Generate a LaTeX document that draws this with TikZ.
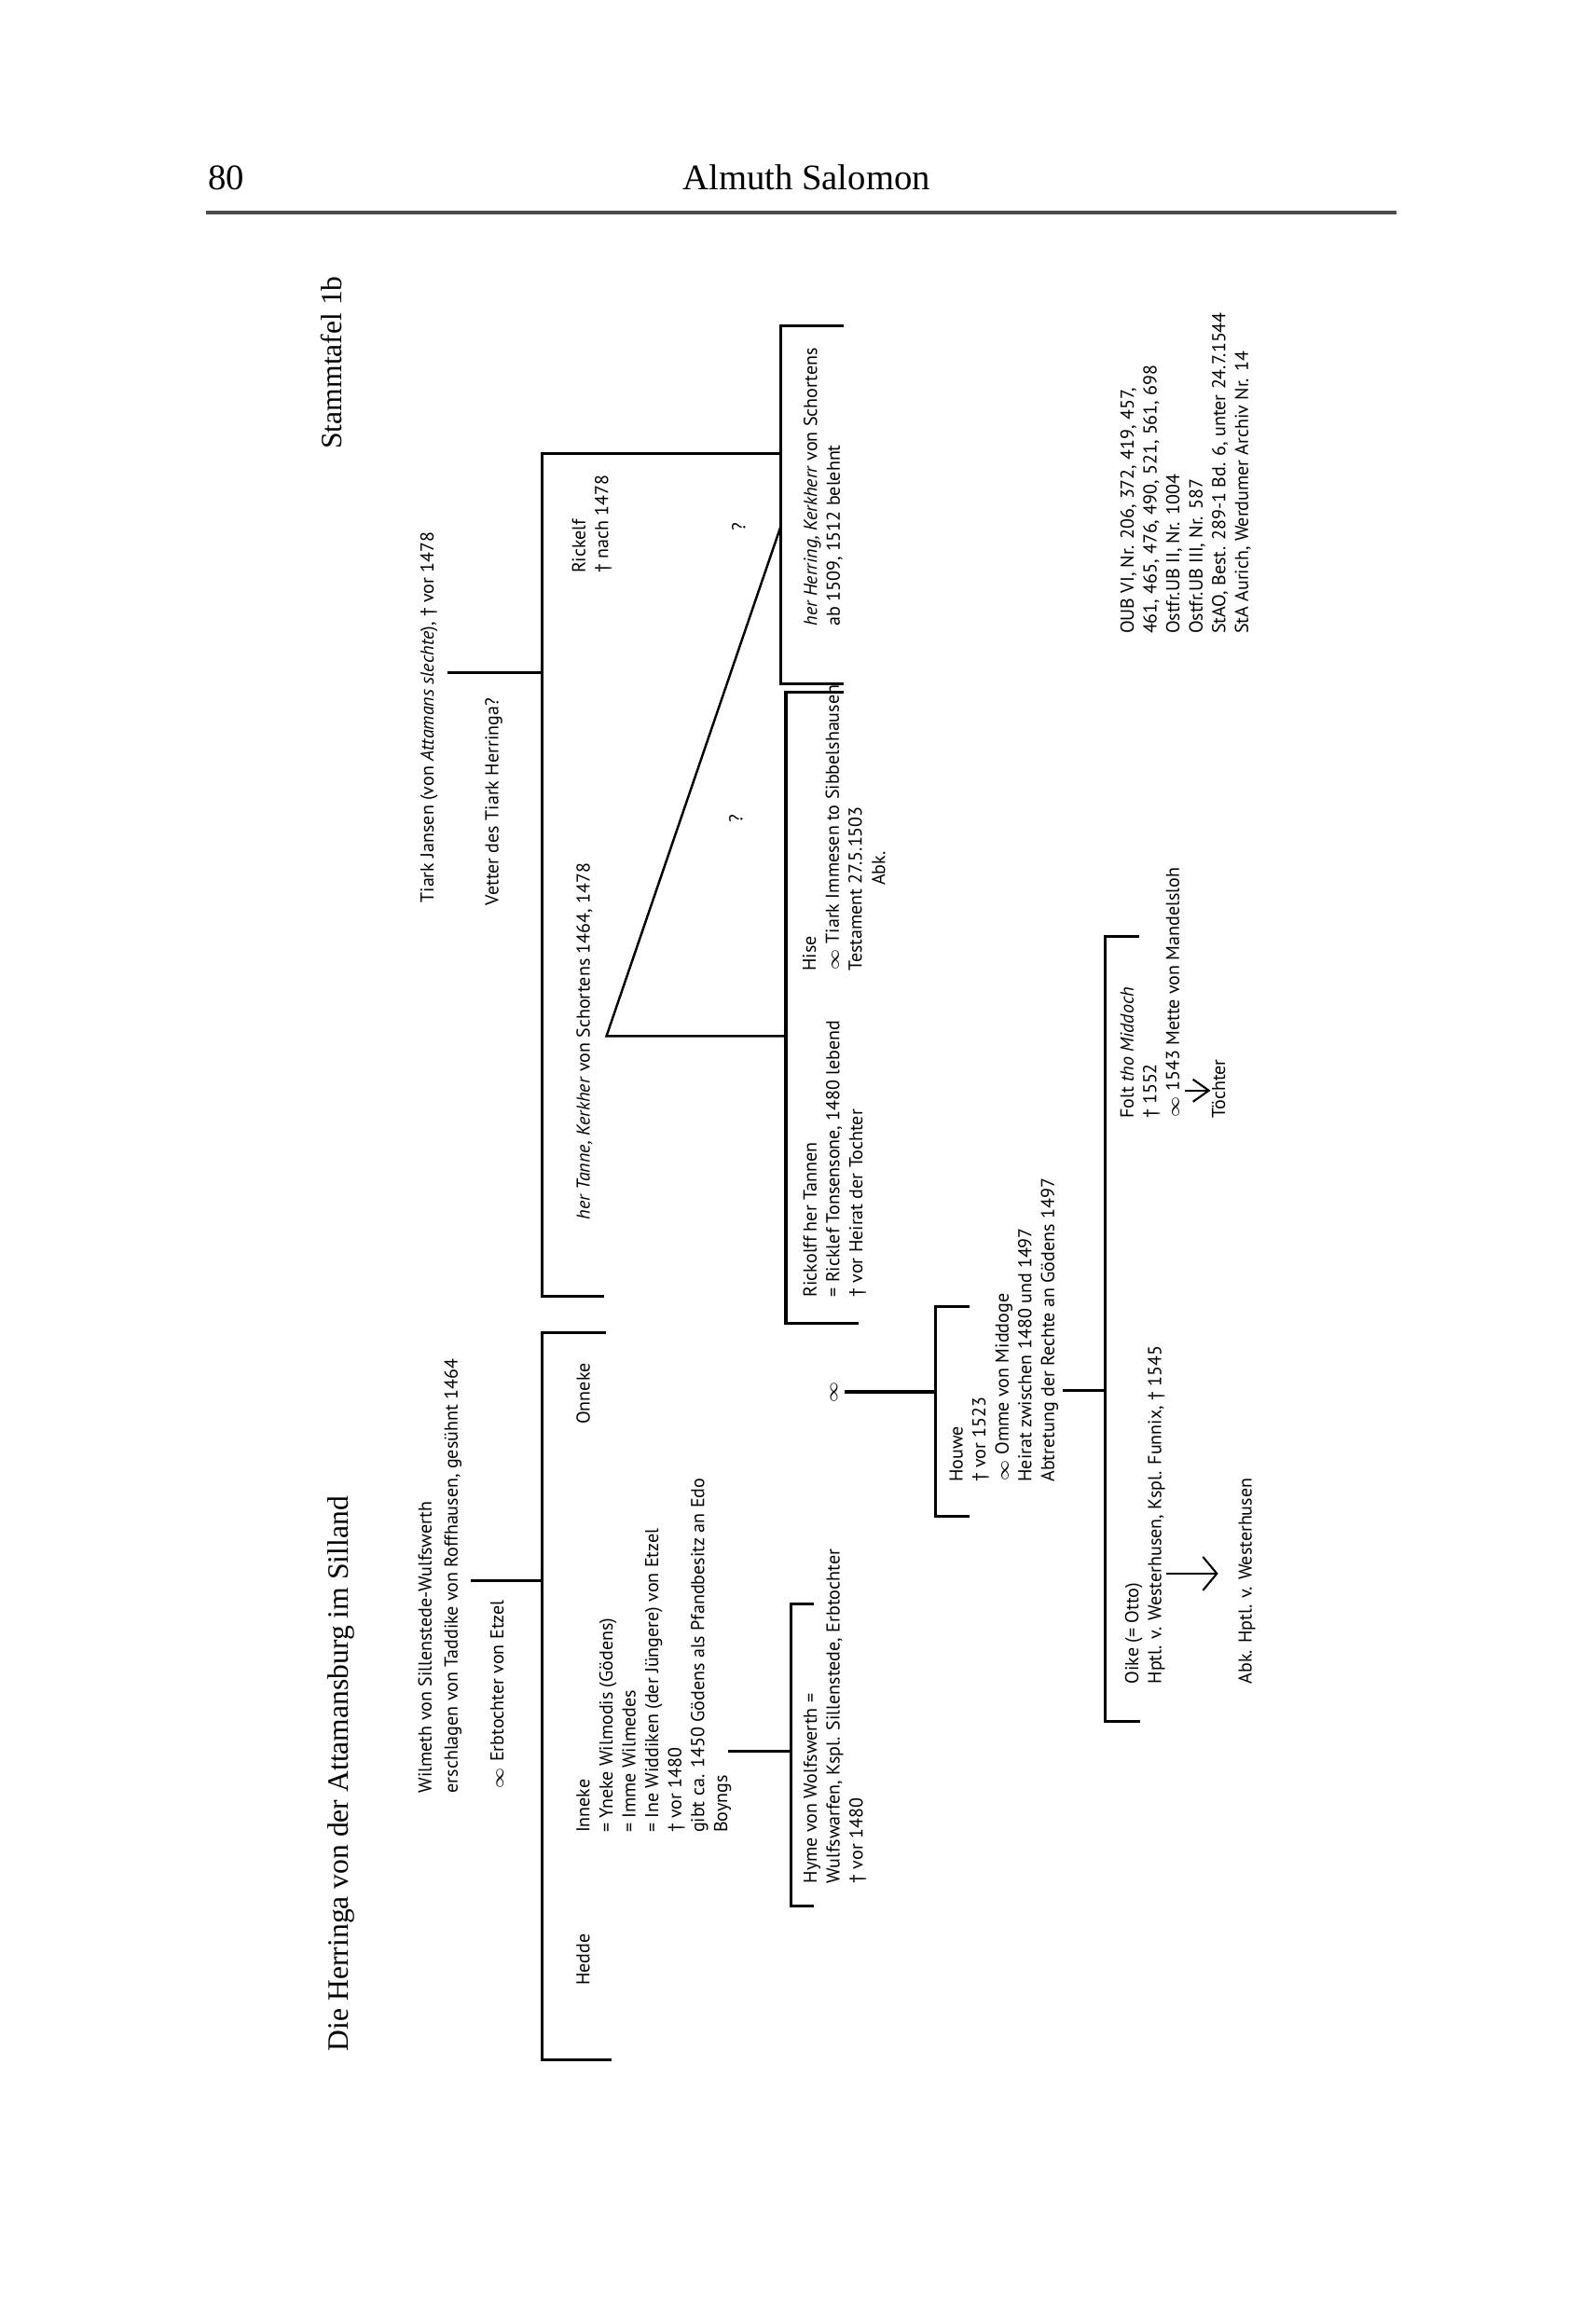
\documentclass[tikz,border=0pt]{standalone}
\usepackage{fontspec}
\setmainfont{Liberation Serif}
\newfontfamily\treefont{PT Sans}
\usetikzlibrary{arrows.meta}
\newcommand\marr{{\fontsize{4.4}{5}\selectfont$\infty$}}

\begin{document}
\begin{tikzpicture}[x=0.1582mm,y=-0.1582mm,line width=0.9pt,
txt/.style={rotate=90,anchor=north west,inner sep=0pt,align=left,font=\treefont\fontsize{5.7}{7}\selectfont},
sym/.style={rotate=90,inner sep=0pt,font=\treefont\fontsize{5.7}{7}\selectfont},
ttl/.style={rotate=90,anchor=base west,inner sep=0pt,font=\fontsize{9}{11}\selectfont},
hd/.style={inner sep=0pt,font=\fontsize{11}{13}\selectfont},
arr/.style={-{Straight Barb[length=1.5mm,width=3.6mm]},line width=0.6pt}]
\useasboundingbox (0,0) rectangle (1082,1568);
\node[hd,anchor=base west] (pgno) at (140.3,128.5) {80};
\node[hd,anchor=base] (auth) at (547,128.5) {Almuth Salomon};
\draw[line width=1pt,black!70] (140,144.3) -- (947,144.3);
\node[ttl] (tafel) at (231.5,305.5) {Stammtafel 1b};
\node[ttl] (titel) at (236,1392) {Die Herringa von der Attamansburg im Silland};
% obere Generation
\node[txt] (tiark) at (284,613.3) {Tiark Jansen (von \textit{Attamans slechte}), † vor 1478};
\node[txt] (vetter) at (328,615) {Vetter des Tiark Herringa?};
\node[txt] (wilmeth) at (282.6,1217) {Wilmeth von Sillenstede-Wulfswerth\\[1pt]erschlagen von Taddike von Roffhausen, gesühnt 1464};
\node[txt] (erbt) at (331.6,1214.3) {\marr{} Erbtochter von Etzel};
% Kinder
\node[txt] (rickelf) at (387,389.8) {Rickelf\\† nach 1478};
\node[txt] (tanne) at (390,828) {\textit{her Tanne, Kerkher} von Schortens 1464, 1478};
\node[txt] (onneke) at (390,966.9) {Onneke};
\node[txt] (inneke) at (390,1244) {Inneke\\= Yneke Wilmodis (Gödens)\\= Imme Wilmedes\\= Ine Widdiken (der Jüngere) von Etzel\\† vor 1480\\gibt ca. 1450 Gödens als Pfandbesitz an Edo\\Boyngs};
\node[txt] (hedde) at (390,1347.5) {Hedde};
\node[txt] (herring) at (544,425.6) {\textit{her Herring, Kerkherr} von Schortens\\ab 1509, 1512 belehnt};
\node[txt] (hise) at (543.4,659.5) {Hise\\\marr{} Tiark Immesen to Sibbelshausen\\Testament 27.5.1503};
\node[txt] (abka) at (590.3,601.6) {Abk.};
\node[txt] (rickolff) at (543.8,880.7) {Rickolff her Tannen\\= Ricklef Tonsensone, 1480 lebend\\† vor Heirat der Tochter};
\node[txt] (hyme) at (544,1278.2) {Hyme von Wolfswerth =\\Wulfswarfen, Kspl. Sillenstede, Erbtochter\\† vor 1480};
\node[sym] (qa) at (501,357) {?};
\node[sym] (qb) at (499,555) {?};
\node[sym] (ehe) at (565.6,944) {\marr};
\node[txt] (houwe) at (643,1006) {Houwe\\† vor 1523\\\marr{} Omme von Middoge\\Heirat zwischen 1480 und 1497\\Abtretung der Rechte an Gödens 1497};
\node[txt] (folt) at (758.7,759.6) {Folt \textit{tho Middoch}\\† 1552\\\marr{} 1543 Mette von Mandelsloh};
\node[txt] (toechter) at (821,759.6) {Töchter};
\node[txt] (oike) at (762,1143.1) {Oike (= Otto)\\Hptl. v. Westerhusen, Kspl. Funnix, † 1545};
\node[txt] (abkb) at (838.8,1143.1) {Abk. Hptl. v. Westerhusen};
\node[txt] (oub) at (758.8,430.9) {OUB VI, Nr. 206, 372, 419, 457,\\461, 465, 476, 490, 521, 561, 698\\Ostfr.UB II, Nr. 1004\\Ostfr.UB III, Nr. 587\\StAO, Best. 289-1 Bd. 6, unter 24.7.1544\\StA Aurich, Werdumer Archiv Nr. 14};
% Klammern und Verbindungen
\coordinate (tj) at (303.4,456.1); \coordinate (wm) at (319.2,1071.9); \coordinate (hy) at (494.1,1187.9);
\coordinate (eh) at (573,944); \coordinate (hn) at (720.6,942.9); \coordinate (tr) at (411.3,702.7);
\coordinate (ft) at (803.8,739.6); \coordinate (ok) at (791.1,1067.2);
\draw (529.5,307.6) -- (367.7,307.6) coordinate (ka) -- (367.7,879) -- (410,879);
\draw (tj) -- (tj -| ka);
\draw (411,904) -- (367.7,904) coordinate (kc) -- (367.7,1396.9) -- (415,1396.9);
\draw (wm) -- (wm -| kc);
\draw (552,1087.9) -- (536.2,1087.9) coordinate (kd) -- (536.2,1292.7) -- (552,1292.7);
\draw (hy) -- (hy -| kd);
\draw (572.1,221.2) -- (529.5,221.2) coordinate (ke) -- (529.5,464) -- (572,464);
\draw (572,469.5) -- (533,469.5) coordinate (kf) -- (533,897.6) -- (582.5,897.6);
\draw[line width=0.7pt] (tr -| kf) -- (tr) -- (ke |- qa.south);
\draw (657.4,886) -- (634.7,886) coordinate (kg) -- (634.7,1028.2) -- (657.4,1028.2);
\draw (eh) -- (eh -| kg);
\draw (772.5,635.3) -- (749.5,635.3) coordinate (kh) -- (749.5,1167.7) -- (773.2,1167.7);
\draw (hn) -- (hn -| kh);
\draw[-{Straight Barb[length=1.7mm,width=2.4mm]},line width=0.6pt] (ft) -- (ft -| toechter.north);
\draw[arr,shorten >=2mm] (ok) -- (ok -| abkb.north);
\end{tikzpicture}
\end{document}
